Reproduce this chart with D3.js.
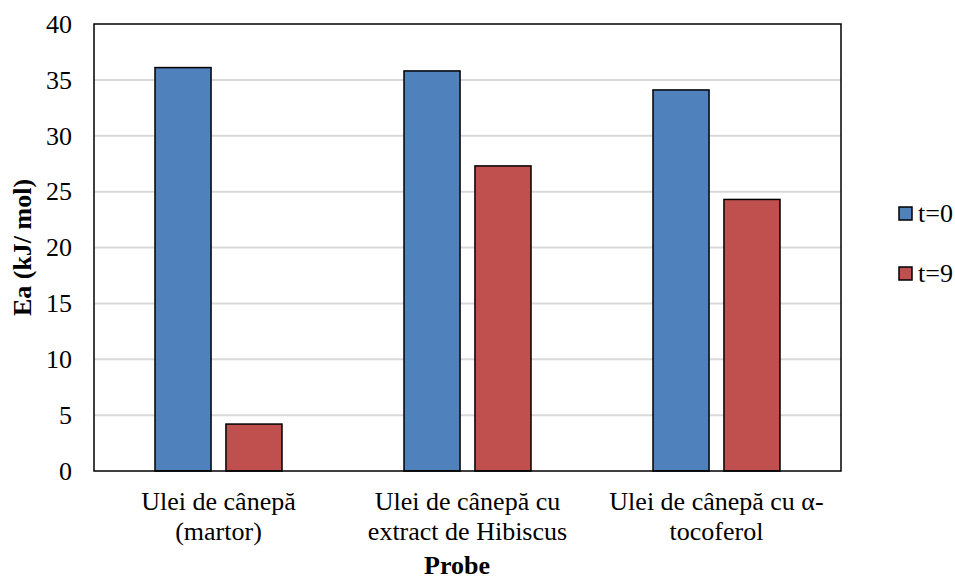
<!DOCTYPE html>
<html>
<head>
<meta charset="utf-8">
<script src="https://cdn.jsdelivr.net/npm/d3@7"></script>
<style>
  body { margin: 0; background: #fff; }
</style>
</head>
<body>
<div id="container"></div>
<script>
/* DATA */
const categories = [
  ["Ulei de cânepă", "(martor)"],
  ["Ulei de cânepă cu", "extract de Hibiscus"],
  ["Ulei de cânepă cu α-", "tocoferol"]
];
const seriesNames = ["t=0", "t=9"];
const valuesT0 = [36.1, 35.8, 34.1];
const valuesT9 = [4.2, 27.3, 24.3];
const yTicks = [0, 5, 10, 15, 20, 25, 30, 35, 40];
const colors = ["#4F81BD", "#C0504D"];

/* CONSTANTS */
const width = 955, height = 581;
const margin = {top: 24, bottom: 110, left: 94, right: 114};
const plotW = width - margin.left - margin.right;
const plotH = height - margin.top - margin.bottom;
const FONT = "'Liberation Serif', 'Times New Roman', serif";
const FS = 26;

const data = categories.map((c, i) => ({cat: i, label: c, vals: [valuesT0[i], valuesT9[i]]}));

const svg = d3.select("#container").append("svg")
  .attr("width", width).attr("height", height)
  .attr("font-family", FONT);

/* SCALES */
const x0 = d3.scaleBand().domain(d3.range(categories.length))
  .range([margin.left, margin.left + plotW]).paddingInner(0).paddingOuter(0);
const x1 = d3.scaleBand().domain([0, 1])
  .range([61, x0.bandwidth() - 61]).paddingInner(0.21).paddingOuter(0);
const y = d3.scaleLinear().domain([0, 40]).range([margin.top + plotH, margin.top]);

// gridlines
svg.append("g").selectAll("line").data(yTicks.filter(t => t > 0 && t < 40)).join("line")
  .attr("x1", margin.left).attr("x2", margin.left + plotW)
  .attr("y1", d => y(d)).attr("y2", d => y(d))
  .attr("stroke", "#d9d9d9").attr("stroke-width", 2);

// bars
const groups = svg.append("g").selectAll("g").data(data).join("g")
  .attr("transform", d => `translate(${x0(d.cat)},0)`);
groups.selectAll("rect").data(d => d.vals.map((v, s) => ({v, s}))).join("rect")
  .attr("x", d => x1(d.s))
  .attr("width", x1.bandwidth())
  .attr("y", d => y(d.v))
  .attr("height", d => y(0) - y(d.v))
  .attr("fill", d => colors[d.s])
  .attr("stroke", "#000").attr("stroke-width", 1.5);

// plot border
svg.append("rect")
  .attr("x", margin.left).attr("y", margin.top)
  .attr("width", plotW).attr("height", plotH)
  .attr("fill", "none").attr("stroke", "#000").attr("stroke-width", 1.5);

// y axis
const yAxis = svg.append("g")
  .attr("transform", `translate(${margin.left},0)`)
  .call(d3.axisLeft(y).tickValues(yTicks).tickSize(0).tickPadding(22));
yAxis.attr("font-family", FONT).attr("font-size", FS);
yAxis.select(".domain").remove();
yAxis.selectAll("text").attr("fill", "#000");

// x labels
const xl = svg.append("g").selectAll("text").data(data).join("text")
  .attr("x", d => x0(d.cat) + x0.bandwidth() / 2)
  .attr("y", 510)
  .attr("text-anchor", "middle")
  .attr("font-size", FS);
xl.selectAll("tspan").data(d => d.label).join("tspan")
  .attr("x", function() { return d3.select(this.parentNode).attr("x"); })
  .attr("dy", (d, i) => i === 0 ? 0 : 30)
  .text(d => d);

// axis titles
svg.append("text")
  .attr("x", 457).attr("y", 574)
  .attr("text-anchor", "middle")
  .attr("font-size", FS).attr("font-weight", "bold")
  .text("Probe");
svg.append("text")
  .attr("transform", `translate(31,${margin.top + plotH / 2}) rotate(-90)`)
  .attr("text-anchor", "middle")
  .attr("font-size", FS).attr("font-weight", "bold")
  .text("Ea (kJ/ mol)");

// legend
const legend = svg.append("g").selectAll("g").data(seriesNames).join("g")
  .attr("transform", (d, i) => `translate(899,${207 + i * 60})`);
legend.append("rect")
  .attr("width", 13).attr("height", 13)
  .attr("fill", (d, i) => colors[i])
  .attr("stroke", "#000").attr("stroke-width", 1.5);
legend.append("text")
  .attr("x", 19).attr("y", 15)
  .attr("font-size", FS)
  .text(d => d);
</script>
</body>
</html>
